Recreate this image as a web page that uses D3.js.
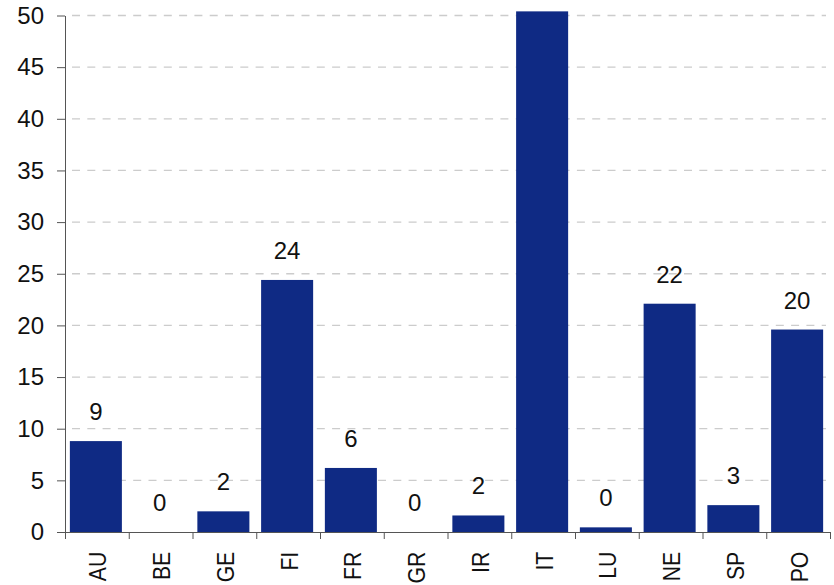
<!DOCTYPE html>
<html>
<head>
<meta charset="utf-8">
<script src="https://cdn.jsdelivr.net/npm/d3@7/dist/d3.min.js"></script>
<style>
  html, body { margin: 0; padding: 0; background: #fff; }
  svg { display: block; font-family: "Liberation Sans", Arial, sans-serif; }
</style>
</head>
<body>
<svg id="chart" width="834" height="585"></svg>
<script>
// Country codes along the x axis
const categories = ["AU", "BE", "GE", "FI", "FR", "GR", "IR", "IT", "LU", "NE", "SP", "PO"];
// Value per country
const values = [8.8, 0, 2.0, 24.4, 6.2, 0, 1.6, 50.4, 0.45, 22.1, 2.6, 19.6];
// Y axis tick values
const yTicks = [0, 5, 10, 15, 20, 25, 30, 35, 40, 45, 50];

const plotLeft = 65, plotRight = 830, plotTop = 15.5, plotBottom = 532;
const barColor = "#0f2a84";
const fontSize = 24;

const svg = d3.select("#chart");

const y = d3.scaleLinear().domain([0, 50]).range([plotBottom, plotTop]);
const x = d3.scaleBand().domain(categories).range([plotLeft, plotRight])
  .paddingInner(0.184).paddingOuter(0.092);
const xEdge = d3.scaleLinear().domain([0, categories.length]).range([plotLeft, plotRight]);

// dashed horizontal gridlines
svg.append("g")
  .selectAll("line")
  .data(yTicks.filter(t => t > 0))
  .join("line")
  .attr("x1", plotLeft + 1).attr("x2", 826)
  .attr("y1", d => y(d)).attr("y2", d => y(d))
  .attr("stroke", "#cccccc")
  .attr("stroke-width", 1.3)
  .attr("stroke-dasharray", "8,7.3")
  .attr("stroke-dashoffset", -6);

const rows = categories.map((c, i) => ({ c, v: values[i] }));

// bars
svg.append("g")
  .selectAll("rect")
  .data(rows)
  .join("rect")
  .attr("x", d => x(d.c) - 1)
  .attr("width", x.bandwidth())
  .attr("y", d => y(d.v))
  .attr("height", d => y(0) - y(d.v))
  .attr("fill", barColor);

// value labels above bars (only where the label fits inside the axis range)
svg.append("g")
  .selectAll("text")
  .data(rows.filter(d => d.v <= y.domain()[1]))
  .join("text")
  .attr("x", d => x(d.c) + x.bandwidth() / 2 - 1)
  .attr("y", d => y(d.v) - 21)
  .attr("text-anchor", "middle")
  .attr("font-size", fontSize)
  .attr("fill", "#111")
  .text(d => d3.format(".0f")(d.v));

// y axis
const yAxis = svg.append("g")
  .attr("transform", `translate(${plotLeft},0)`)
  .call(d3.axisLeft(y).tickValues(yTicks).tickSize(8).tickPadding(13).tickSizeOuter(0));
yAxis.select(".domain").attr("stroke", "#555");
yAxis.selectAll(".tick line").attr("stroke", "#555");
yAxis.selectAll(".tick text")
  .attr("font-size", fontSize)
  .attr("font-family", "Liberation Sans, Arial, sans-serif")
  .attr("fill", "#111");

// x axis: boundary ticks between categories
const xAxisTicks = svg.append("g")
  .attr("transform", `translate(0,${plotBottom})`)
  .call(d3.axisBottom(xEdge).tickValues(d3.range(categories.length + 1)).tickFormat("").tickSize(7).tickSizeOuter(0));
xAxisTicks.select(".domain").attr("stroke", "#555");
xAxisTicks.selectAll(".tick line").attr("stroke", "#555");

// x axis category labels, rotated to read bottom-up
const xAxisLabels = svg.append("g")
  .attr("transform", `translate(0,${plotBottom})`)
  .call(d3.axisBottom(x).tickSize(0).tickSizeOuter(0));
xAxisLabels.select(".domain").remove();
xAxisLabels.selectAll(".tick text")
  .attr("font-size", 23)
  .attr("font-family", "Liberation Sans, Arial, sans-serif")
  .attr("fill", "#111")
  .attr("transform", "rotate(-90) scale(0.92,1.03)")
  .attr("text-anchor", "end")
  .attr("x", -21.5)
  .attr("y", 1)
  .attr("dy", "0.36em");
</script>
</body>
</html>
